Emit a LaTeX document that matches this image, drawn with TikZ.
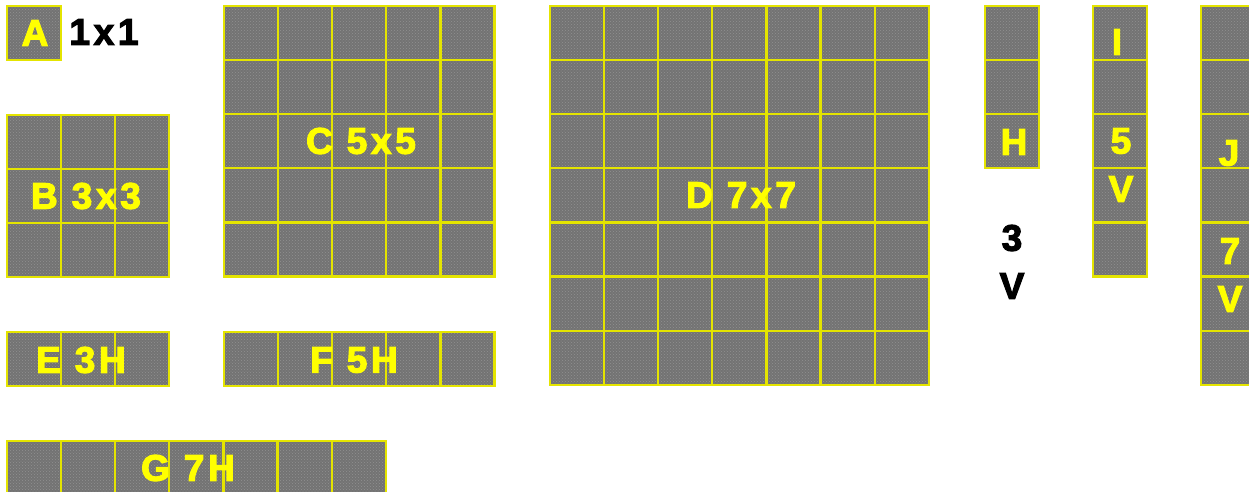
\documentclass[tikz,border=0pt]{standalone}
\usepackage{fontspec}
\usepackage{tikz}
\usetikzlibrary{positioning,patterns}
\newfontfamily\tilefont[LetterSpace=10.0,FakeBold=3]{Liberation Sans}
\definecolor{TileGray}{RGB}{115,115,115}
\definecolor{TileDot}{RGB}{145,145,145}
\definecolor{TileLine}{RGB}{228,228,0}
\definecolor{TileText}{RGB}{255,255,0}

\begin{document}
\begin{tikzpicture}[x=1pt,y=-1pt,
  tile/.style={draw=TileLine,line width=2.2pt,preaction={fill=TileGray},pattern=crosshatch dots,pattern color=TileDot},
  lbl/.style={text=TileText,font=\tilefont\bfseries\fontsize{37}{40}\selectfont,inner sep=0pt},
  blk/.style={text=black,font=\tilefont\bfseries\fontsize{37}{40}\selectfont,inner sep=0pt}]
\useasboundingbox (0,0) rectangle (1249,491);
\clip (0,0) rectangle (1249,491);
\foreach \x/\y/\c/\r in {7/6/1/1, 7/115/3/3, 224/6/5/5, 550/6/7/7, 985/6/1/3, 1093/6/1/5, 1201/6/1/7, 7/332/3/1, 224/332/5/1, 7/441/7/1}
  \foreach \i in {1,...,\c}
    \foreach \j in {1,...,\r}
      \draw[tile] ({\x+(\i-1)*54.1},{\y+(\j-1)*54.1}) rectangle ++(54.1,54.1);
\node[lbl] (a) at (35,33) {A};
\node[blk] (a-size) at (104,32) {1x1};
\node[lbl] (b) at (86,196) {B 3x3};
\node[lbl] (c) at (361,141) {C 5x5};
\node[lbl] (d) at (741,195) {D 7x7};
\node[lbl] (e) at (81,360) {E 3H};
\node[lbl] (f) at (354,360) {F 5H};
\node[lbl] (g) at (188,468) {G 7H};
\node[lbl] (h) at (1014,142) {H};
\node[blk] (h-num) at (1012,238) {3};
\node[blk] (h-dir) at (1012,286) {V};
\node[lbl] (i) at (1117,42) {I};
\node[lbl] (i-num) at (1121,141) {5};
\node[lbl] (i-dir) at (1121,189) {V};
\node[lbl] (j) at (1229,153) {J};
\node[lbl] (j-num) at (1230,251) {7};
\node[lbl] (j-dir) at (1230,299) {V};
\end{tikzpicture}
\end{document}
